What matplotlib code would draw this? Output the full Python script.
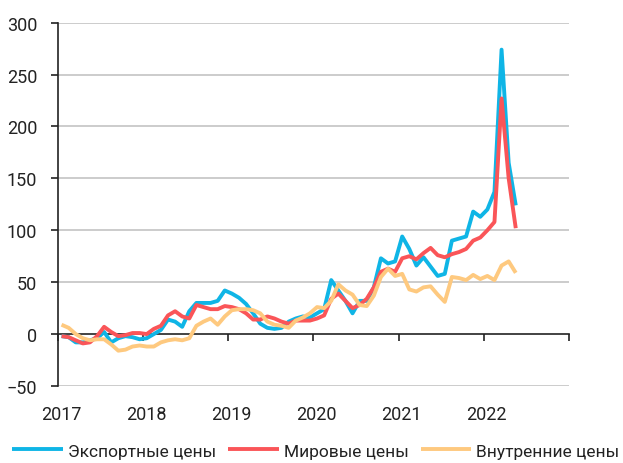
import numpy as np
import matplotlib
matplotlib.use('Agg')
import matplotlib.pyplot as plt
from matplotlib.transforms import ScaledTranslation

plt.rcParams['font.family'] = ['Roboto', 'DejaVu Sans']

# monthly % change, Jan 2017 .. May 2022
export_prices = [
    -2, -3, -8, -8, -6, -4, 2, -8, -4, -2, -3, -5,
    -4, 0, 4, 14, 12, 7, 22, 30, 30, 30, 32, 42,
    39, 35, 29, 20, 10, 6, 5, 6, 12, 15, 17, 16,
    20, 24, 52, 42, 32, 20, 32, 32, 45, 73, 68, 70,
    94, 82, 66, 74, 65, 56, 58, 90, 92, 94, 118, 113,
    120, 137, 274, 165, 124,
]
world_prices = [
    -2, -3, -6, -9, -8, -2, 7, 2, -2, -1, 1, 1,
    0, 5, 8, 18, 22, 17, 15, 28, 26, 24, 24, 27,
    26, 24, 20, 14, 14, 17, 15, 12, 10, 13, 13, 13,
    15, 18, 34, 39, 32, 25, 28, 34, 45, 60, 63, 60,
    73, 75, 72, 78, 83, 76, 74, 77, 79, 82, 90, 93,
    100, 108, 227, 150, 102,
]
domestic_prices = [
    9, 6, 0, -4, -6, -5, -5, -10, -16, -15, -12, -11,
    -12, -12, -8, -6, -5, -6, -4, 8, 12, 15, 9, 17,
    23, 24, 24, 23, 20, 12, 9, 8, 6, 13, 16, 20,
    26, 25, 32, 48, 42, 38, 28, 27, 37, 55, 63, 56,
    58, 43, 41, 45, 46, 38, 31, 55, 54, 52, 57, 53,
    56, 52, 66, 70, 59,
]
years = [2017, 2018, 2019, 2020, 2021, 2022]
labels = ['Экспортные цены', 'Мировые цены', 'Внутренние цены']
colors = ['#0fb5e6', '#fa5558', '#fec97f']

x = 2017 + (np.arange(len(export_prices)) + 0.5) / 12

fig = plt.figure(figsize=(6.23, 4.64), dpi=100)
ax = fig.add_axes([0.0931, 0.166, 0.8202, 0.783])

for vals, lab, col in zip([export_prices, world_prices, domestic_prices],
                          labels, colors):
    ax.plot(x, vals, color=col, lw=2.8, label=lab,
            solid_joinstyle='round', solid_capstyle='butt', zorder=3)

ax.set_xlim(2017, 2023)
ax.set_ylim(-50, 300)
ax.set_yticks(range(-50, 301, 50))
for v in range(-50, 301, 50):
    if v != 0:
        ax.axhline(v, color='#c4c4c4', lw=1.2, zorder=1)

for s in ['top', 'right', 'bottom']:
    ax.spines[s].set_visible(False)
ax.spines['left'].set_color('#222222')
ax.spines['left'].set_linewidth(1.2)
ax.tick_params(axis='y', length=5, width=1.2, color='#222222',
               pad=10, labelsize=13, labelcolor='#222222')

ax.set_xticks(years)
ax.set_xticklabels([str(y) for y in years])
ax.tick_params(axis='x', length=0, pad=14, labelsize=13,
               labelcolor='#222222')
off = ScaledTranslation(3 / 100, 0, fig.dpi_scale_trans)
for t in ax.get_xticklabels():
    t.set_transform(t.get_transform() + off)

# x axis line at zero with tick marks
sec = ax.secondary_xaxis(50 / 350)
sec.set_xticks(years + [2023])
sec.set_xticklabels([])
sec.spines['bottom'].set_color('#222222')
sec.spines['bottom'].set_linewidth(1.2)
sec.tick_params(axis='x', length=5, width=1.2, color='#222222')

fig.legend(loc='center', bbox_to_anchor=(0.507, 0.026), ncol=3,
           frameon=False, fontsize=12.5, handlelength=2.9,
           handletextpad=0.3, columnspacing=0.7,
           labelcolor='#222222')

fig.savefig('out.png', dpi=100)
